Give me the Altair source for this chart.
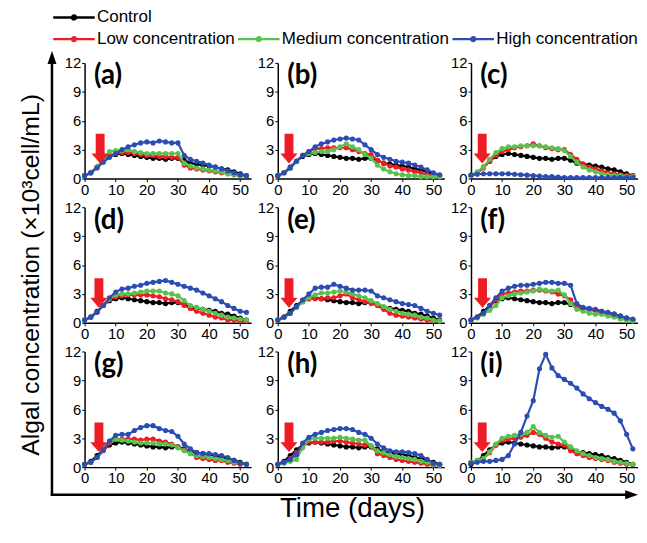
import altair as alt
import pandas as pd

# ---------------- data ----------------
DAYS = [0, 2, 4, 6, 8, 10, 12, 14, 16, 18, 20, 22, 24, 26, 28, 30, 32, 34, 36, 38, 40, 42, 44, 46, 48, 50, 52]
SERIES = ["Control", "Low concentration", "Medium concentration", "High concentration"]
COLORS = ["#000000", "#ee1c24", "#58c24f", "#2b4db3"]
PANELS = ["a", "b", "c", "d", "e", "f", "g", "h", "i"]
X_TICKS = [0, 10, 20, 30, 40, 50]
Y_TICKS = [0, 3, 6, 9, 12]
ARROW_DAY = [5.0, 3.6, 3.6, 4.6, 3.6, 3.7, 4.6, 3.6, 3.6]
ARROW_LEVEL = 3.1

CONTROL = [0.3, 0.6, 1.2, 1.8, 2.3, 2.5, 2.6, 2.5, 2.4, 2.3, 2.2, 2.1, 2.1, 2.0, 2.1, 2.1, 1.9, 1.6, 1.5, 1.4, 1.3, 1.2, 1.0, 0.9, 0.7, 0.5, 0.3]

A_LOW = [0.3, 0.6, 1.2, 1.9, 2.4, 2.6, 2.7, 2.7, 2.6, 2.5, 2.4, 2.4, 2.3, 2.3, 2.2, 2.2, 1.4, 1.1, 1.0, 0.9, 0.8, 0.7, 0.6, 0.5, 0.4, 0.3, 0.3]
A_MED = [0.3, 0.6, 1.2, 2.0, 2.8, 2.9, 2.9, 3.0, 2.8, 2.7, 2.6, 2.6, 2.6, 2.6, 2.6, 2.6, 1.6, 1.3, 1.1, 1.0, 0.9, 0.8, 0.7, 0.5, 0.4, 0.3, 0.3]
A_HIGH = [0.3, 0.6, 1.1, 1.7, 2.2, 2.6, 3.0, 3.3, 3.5, 3.7, 3.8, 3.7, 3.9, 3.8, 3.7, 3.7, 2.4, 2.0, 1.8, 1.6, 1.4, 1.2, 1.0, 0.8, 0.6, 0.4, 0.3]

B_LOW = [0.3, 0.6, 1.1, 1.8, 2.4, 2.8, 3.1, 3.1, 3.2, 3.2, 3.2, 3.2, 3.0, 2.8, 2.6, 2.5, 1.9, 1.6, 1.3, 1.2, 1.0, 0.9, 0.7, 0.6, 0.4, 0.3, 0.3]
B_MED = [0.3, 0.6, 1.1, 1.8, 2.4, 2.6, 2.7, 2.8, 2.8, 3.0, 3.3, 3.6, 3.3, 3.0, 2.5, 2.1, 1.4, 1.0, 0.7, 0.5, 0.4, 0.3, 0.3, 0.2, 0.2, 0.2, 0.2]
B_HIGH = [0.3, 0.6, 1.1, 1.8, 2.4, 2.8, 3.3, 3.6, 3.8, 4.0, 4.1, 4.2, 4.1, 4.0, 3.5, 3.0, 2.5, 2.2, 2.0, 1.8, 1.7, 1.6, 1.4, 1.2, 0.9, 0.6, 0.4]

C_LOW = [0.3, 0.6, 1.1, 1.8, 2.4, 2.8, 3.0, 3.2, 3.3, 3.4, 3.6, 3.4, 3.2, 3.1, 3.0, 3.0, 2.5, 2.0, 1.5, 1.2, 1.0, 0.8, 0.6, 0.5, 0.4, 0.3, 0.3]
C_MED = [0.3, 0.7, 1.2, 2.0, 2.7, 3.1, 3.3, 3.3, 3.4, 3.4, 3.4, 3.4, 3.3, 3.2, 3.1, 2.9, 2.3, 1.7, 1.2, 0.9, 0.7, 0.5, 0.4, 0.3, 0.3, 0.2, 0.2]
C_HIGH = [0.4, 0.45, 0.5, 0.5, 0.5, 0.5, 0.5, 0.45, 0.4, 0.35, 0.3, 0.25, 0.2, 0.2, 0.15, 0.1, 0.1, 0.1, 0.1, 0.1, 0.1, 0.1, 0.1, 0.1, 0.1, 0.1, 0.1]

D_LOW = [0.3, 0.6, 1.1, 1.8, 2.4, 2.7, 2.8, 2.9, 2.9, 2.9, 2.9, 2.8, 2.7, 2.5, 2.4, 2.2, 1.8, 1.5, 1.2, 1.0, 0.8, 0.6, 0.5, 0.3, 0.3, 0.2, 0.2]
D_MED = [0.3, 0.6, 1.1, 1.8, 2.5, 2.9, 3.0, 3.0, 3.1, 3.2, 3.3, 3.3, 3.3, 3.1, 3.0, 2.8, 2.3, 1.8, 1.6, 1.4, 1.2, 1.0, 0.8, 0.6, 0.5, 0.4, 0.3]
D_HIGH = [0.3, 0.6, 1.1, 1.8, 2.6, 3.2, 3.5, 3.6, 3.8, 3.9, 4.1, 4.2, 4.3, 4.4, 4.2, 4.0, 3.8, 3.6, 3.4, 3.1, 2.8, 2.5, 2.2, 1.8, 1.5, 1.2, 1.1]

E_LOW = [0.3, 0.6, 1.0, 1.6, 2.2, 2.5, 2.5, 2.5, 2.6, 2.6, 2.8, 3.0, 2.6, 2.4, 2.2, 2.0, 1.8, 1.4, 1.0, 0.8, 0.7, 0.6, 0.5, 0.4, 0.3, 0.2, 0.2]
E_MED = [0.3, 0.6, 1.0, 1.6, 2.2, 2.6, 2.9, 3.1, 3.1, 3.2, 3.3, 3.2, 3.0, 2.8, 2.6, 2.3, 2.0, 1.7, 1.4, 1.2, 1.0, 0.9, 0.8, 0.6, 0.5, 0.3, 0.2]
E_HIGH = [0.3, 0.6, 1.0, 1.7, 2.4, 3.0, 3.6, 3.7, 3.7, 4.0, 3.8, 3.6, 3.4, 3.4, 3.4, 3.3, 2.8, 2.6, 2.4, 2.2, 2.0, 1.9, 1.8, 1.5, 1.2, 1.0, 0.8]

F_LOW = [0.3, 0.6, 1.0, 1.7, 2.4, 3.0, 3.1, 3.2, 3.3, 3.3, 3.4, 3.4, 3.3, 3.2, 3.0, 2.8, 2.4, 1.6, 1.5, 1.4, 1.2, 1.1, 0.9, 0.8, 0.6, 0.5, 0.3]
F_MED = [0.3, 0.5, 0.9, 1.3, 1.8, 2.6, 2.8, 3.0, 3.1, 3.2, 3.3, 3.5, 3.4, 3.3, 3.4, 2.9, 2.0, 1.4, 1.2, 1.0, 0.9, 0.9, 0.7, 0.6, 0.4, 0.3, 0.2]
F_HIGH = [0.3, 0.6, 1.0, 1.8, 2.6, 3.3, 3.6, 3.8, 3.9, 3.9, 4.0, 4.1, 4.2, 4.2, 4.1, 4.1, 3.9, 2.0, 1.6, 1.5, 1.4, 1.2, 1.1, 0.9, 0.7, 0.5, 0.4]

G_LOW = [0.3, 0.5, 1.0, 1.7, 2.5, 2.9, 2.9, 2.9, 2.9, 2.8, 2.9, 2.9, 2.7, 2.6, 2.4, 2.1, 1.8, 1.5, 1.0, 0.9, 0.8, 0.7, 0.7, 0.5, 0.4, 0.3, 0.3]
G_MED = [0.3, 0.5, 1.0, 1.8, 2.7, 2.9, 2.8, 2.7, 2.6, 2.5, 2.5, 2.5, 2.4, 2.4, 2.3, 2.0, 1.7, 1.4, 1.2, 1.1, 1.0, 0.9, 0.8, 0.7, 0.5, 0.4, 0.3]
G_HIGH = [0.3, 0.5, 1.0, 1.8, 2.7, 3.3, 3.4, 3.4, 3.8, 4.1, 4.3, 4.3, 4.0, 3.8, 3.7, 3.2, 2.4, 1.9, 1.5, 1.4, 1.4, 1.3, 1.2, 1.0, 0.7, 0.4, 0.3]

H_LOW = [0.3, 0.5, 0.9, 1.5, 2.2, 2.6, 2.6, 2.6, 2.6, 2.7, 2.7, 2.6, 2.5, 2.4, 2.3, 2.2, 1.4, 1.2, 1.0, 0.8, 0.7, 0.6, 0.5, 0.4, 0.3, 0.2, 0.2]
H_MED = [0.3, 0.4, 0.6, 0.8, 2.0, 2.9, 3.0, 3.0, 3.0, 3.0, 3.1, 3.0, 2.9, 2.8, 2.8, 2.2, 1.7, 1.5, 1.3, 1.1, 1.0, 0.9, 0.8, 0.6, 0.5, 0.3, 0.2]
H_HIGH = [0.3, 0.5, 0.8, 1.3, 2.5, 3.1, 3.4, 3.6, 3.8, 3.9, 4.0, 4.0, 3.9, 3.6, 3.4, 3.0, 2.4, 2.0, 1.7, 1.6, 1.6, 1.5, 1.4, 1.2, 0.8, 0.4, 0.3]

I_LOW = [0.5, 0.7, 0.9, 1.5, 2.3, 2.8, 2.9, 3.0, 3.1, 3.3, 3.6, 3.4, 3.0, 2.6, 2.4, 2.3, 1.7, 1.4, 1.2, 1.0, 0.9, 0.8, 0.7, 0.5, 0.4, 0.3, 0.3]
I_MED = [0.5, 0.7, 0.9, 1.6, 2.4, 3.0, 3.2, 3.3, 3.4, 3.6, 4.2, 3.6, 3.3, 3.1, 3.2, 2.6, 2.1, 1.7, 1.4, 1.2, 1.0, 0.9, 0.8, 0.6, 0.5, 0.4, 0.3]
I_HIGH = [0.4, 0.5, 0.6, 0.6, 0.7, 0.8, 1.2, 2.4, 3.6, 5.3, 6.9, 10.2, 11.7, 10.3, 9.5, 9.1, 8.7, 8.2, 7.6, 7.1, 6.7, 6.3, 6.0, 5.6, 4.8, 3.4, 1.9]

LOW = [A_LOW, B_LOW, C_LOW, D_LOW, E_LOW, F_LOW, G_LOW, H_LOW, I_LOW]
MED = [A_MED, B_MED, C_MED, D_MED, E_MED, F_MED, G_MED, H_MED, I_MED]
HIGH = [A_HIGH, B_HIGH, C_HIGH, D_HIGH, E_HIGH, F_HIGH, G_HIGH, H_HIGH, I_HIGH]

Y_TITLE = "Algal concentration (×10³cell/mL)"
X_TITLE = "Time (days)"

rows = []
for d, v in zip(DAYS, CONTROL):
    rows.append({"panel": "all", "series": SERIES[0], "day": d, "value": v})
for i, p in enumerate(PANELS):
    for s, arr in zip(SERIES[1:], (LOW[i], MED[i], HIGH[i])):
        for d, v in zip(DAYS, arr):
            rows.append({"panel": p, "series": s, "day": d, "value": v})
df = pd.DataFrame(rows)
one = pd.DataFrame({"k": [0]})

# ---------------- styling ----------------
FONT = "Liberation Sans"
W, H = 168.5, 117
X_MAX = 53.5
LW = 2.2
PT = 27
RED = "#ee1c24"
ARROW_PATH = "M-0.3,-1L0.3,-1L0.3,0.33L0.58,0.33L0,1L-0.58,0.33L-0.3,0.33Z"
# legend glyph: a line with a dot, starting at the left edge of the symbol slot
LEG_PATH = ("M-1.167,0L4.433,0"
            "M1.74,0A0.107,0.107,0,1,1,1.526,0A0.107,0.107,0,1,1,1.74,0"
            "M1.886,0A0.253,0.253,0,1,1,1.38,0A0.253,0.253,0,1,1,1.886,0")


def legend(lx, ly, direction):
    return alt.Legend(title=None, orient="none", legendX=lx, legendY=ly,
                      direction=direction, symbolType=LEG_PATH, symbolSize=225,
                      symbolStrokeWidth=2.5, labelFont=FONT, labelFontSize=17.2,
                      labelColor="black", labelOffset=26.5, columnPadding=-2,
                      labelLimit=400, padding=0, symbolOpacity=1)


xenc = alt.X("day:Q", scale=alt.Scale(domain=[0, X_MAX], nice=False),
             axis=alt.Axis(values=X_TICKS, tickCount=20, title=None, format="d", labelOverlap=False))
yenc = alt.Y("value:Q", scale=alt.Scale(domain=[0, 12], nice=False),
             axis=alt.Axis(values=Y_TICKS, tickCount=20, title=None, format="d", labelOverlap=False))


def series_line(base):
    return base.mark_line(strokeWidth=LW,
                          point=alt.OverlayMarkDef(filled=True, size=PT, opacity=1))


def make_panel(i, p):
    first = i == 0
    base = alt.Chart(df)
    if first:
        ctrl_color = alt.Color("series:N", scale=alt.Scale(domain=SERIES[:1], range=COLORS[:1]),
                               legend=legend(-32, -55, "vertical"))
        trt_color = alt.Color("series:N", scale=alt.Scale(domain=SERIES[1:], range=COLORS[1:]),
                              legend=legend(-32, -33.5, "horizontal"))
    else:
        ctrl_color = alt.Color("series:N", scale=alt.Scale(domain=SERIES[:1], range=COLORS[:1]),
                               legend=None)
        trt_color = alt.Color("series:N", scale=alt.Scale(domain=SERIES[1:], range=COLORS[1:]),
                              legend=None)

    ctrl = series_line(base.transform_filter(alt.datum.series == SERIES[0])).encode(
        x=xenc, y=yenc, color=ctrl_color)
    trt = alt.layer(*[
        series_line(base.transform_filter((alt.datum.panel == p) & (alt.datum.series == s))).encode(
            x=xenc, y=yenc, color=trt_color)
        for s in SERIES[1:]
    ])
    marker_df = pd.DataFrame({"day": [ARROW_DAY[i]], "value": [ARROW_LEVEL]})
    arrow = alt.Chart(marker_df).mark_point(shape=ARROW_PATH, filled=True, color=RED,
                                            size=900, opacity=1, strokeWidth=0).encode(
        x=xenc, y=yenc)
    label_df = pd.DataFrame({"day": [3.0], "value": [10.6], "txt": [f"({p})"]})
    label = alt.Chart(label_df).mark_text(align="left", baseline="middle",
                                          font="Lato", fontWeight="bold", fontSize=28,
                                          color="black").encode(
        x=xenc, y=yenc, text="txt:N")
    layers = [ctrl, trt, arrow, label]
    if first:
        vline = alt.Chart(one).mark_rule(color="black", strokeWidth=2.5).encode(
            x=alt.value(-33), y=alt.value(-5.5), y2=alt.value(438.2))
        hline = alt.Chart(one).mark_rule(color="black", strokeWidth=2.5).encode(
            x=alt.value(-34.2), x2=alt.value(548), y=alt.value(437))
        up = alt.Chart(one).mark_point(shape="M0,-1L0.7,1L-0.7,1Z", filled=True, color="black",
                                       size=169, opacity=1, strokeWidth=0).encode(
            x=alt.value(-33), y=alt.value(-5.5))
        right = alt.Chart(one).mark_point(shape="M1,0L-1,-0.7L-1,0.7Z", filled=True, color="black",
                                          size=169, opacity=1, strokeWidth=0).encode(
            x=alt.value(553.5), y=alt.value(437))
        ytitle = alt.Chart(one).mark_text(text=Y_TITLE, angle=270, font=FONT, fontSize=25,
                                          align="center", baseline="middle", color="black").encode(
            x=alt.value(-54), y=alt.value(214.5))
        xtitle = alt.Chart(one).mark_text(text=X_TITLE, font=FONT, fontSize=28,
                                          align="center", baseline="middle", color="black").encode(
            x=alt.value(271), y=alt.value(451.5))
        layers += [vline, hline, up, right, ytitle, xtitle]
    return alt.layer(*layers).resolve_scale(color="independent").properties(width=W, height=H)


panels = [make_panel(i, p) for i, p in enumerate(PANELS)]

chart = alt.concat(*panels, columns=3, spacing={"row": 29, "column": 26.5}, bounds="flush").properties(
    padding={"left": 10.5, "top": -3.5, "right": 0, "bottom": 0}, background="white"
).configure_view(stroke="transparent").configure_axis(
    domainColor="black", domainWidth=1.5, tickColor="black", tickSize=3, tickWidth=1,
    labelFont=FONT, labelFontSize=15, labelColor="black", grid=False, labelPadding=1,
    labelFlush=False, labelOverlap=False
)

chart.save("out.html", embed_options={"renderer": "svg", "actions": False})
